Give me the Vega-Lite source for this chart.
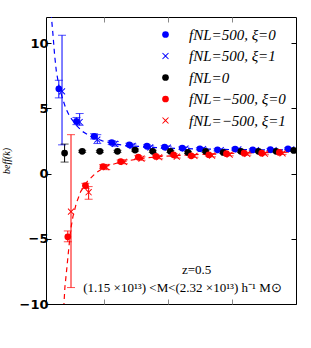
{
  "$schema": "https://vega.github.io/schema/vega-lite/v6.json",
  "width": 250,
  "height": 287,
  "autosize": {"type": "none"},
  "padding": {"left": 46, "top": 17, "right": 15, "bottom": 44},
  "background": "white",
  "config": {
    "view": {"stroke": "black", "strokeWidth": 1},
    "axis": {"grid": false, "domain": false},
    "legend": {
      "orient": "top-right",
      "offset": 10,
      "padding": 0,
      "labelFont": "Liberation Serif",
      "labelFontStyle": "italic",
      "labelFontSize": 15,
      "labelColor": "black",
      "symbolSize": 45,
      "symbolOpacity": 1,
      "symbolStrokeWidth": 0,
      "rowPadding": 5.5,
      "labelOffset": 16,
      "title": null
    }
  },
  "datasets": {
    "pts": [
      {"series": "fNL=500, ξ=0", "k": 0.003, "b": 6.5, "lo": 5.8, "hi": 7.15},
      {"series": "fNL=500, ξ=0", "k": 0.00575, "b": 4.0, "lo": 3.75, "hi": 4.3},
      {"series": "fNL=500, ξ=0", "k": 0.0085, "b": 2.85, "lo": 2.65, "hi": 3.05},
      {"series": "fNL=500, ξ=0", "k": 0.01125, "b": 2.38, "lo": 2.22, "hi": 2.52},
      {"series": "fNL=500, ξ=0", "k": 0.014, "b": 2.2, "lo": 2.08, "hi": 2.32},
      {"series": "fNL=500, ξ=0", "k": 0.01675, "b": 2.1, "lo": 2.0, "hi": 2.2},
      {"series": "fNL=500, ξ=0", "k": 0.0195, "b": 2.03, "lo": 1.93, "hi": 2.13},
      {"series": "fNL=500, ξ=0", "k": 0.02225, "b": 1.95, "lo": 1.86, "hi": 2.04},
      {"series": "fNL=500, ξ=0", "k": 0.025, "b": 1.9, "lo": 1.82, "hi": 1.98},
      {"series": "fNL=500, ξ=0", "k": 0.02775, "b": 1.82, "lo": 1.74, "hi": 1.9},
      {"series": "fNL=500, ξ=0", "k": 0.0305, "b": 1.88, "lo": 1.8, "hi": 1.96},
      {"series": "fNL=500, ξ=0", "k": 0.03325, "b": 1.82, "lo": 1.75, "hi": 1.89},
      {"series": "fNL=500, ξ=0", "k": 0.036, "b": 1.84, "lo": 1.77, "hi": 1.91},
      {"series": "fNL=500, ξ=0", "k": 0.03875, "b": 1.9, "lo": 1.83, "hi": 1.97},
      {"series": "fNL=500, ξ=1", "k": 0.0035, "b": 6.3, "lo": 2.2, "hi": 10.6},
      {"series": "fNL=500, ξ=1", "k": 0.00625, "b": 3.95, "lo": 3.7, "hi": 4.6},
      {"series": "fNL=500, ξ=1", "k": 0.009, "b": 2.6, "lo": 2.3, "hi": 2.98},
      {"series": "fNL=500, ξ=1", "k": 0.01175, "b": 2.28, "lo": 2.1, "hi": 2.45},
      {"series": "fNL=500, ξ=1", "k": 0.0145, "b": 2.12, "lo": 1.98, "hi": 2.26},
      {"series": "fNL=500, ξ=1", "k": 0.01725, "b": 2.0, "lo": 1.88, "hi": 2.12},
      {"series": "fNL=500, ξ=1", "k": 0.02, "b": 1.98, "lo": 1.87, "hi": 2.09},
      {"series": "fNL=500, ξ=1", "k": 0.02275, "b": 1.92, "lo": 1.82, "hi": 2.02},
      {"series": "fNL=500, ξ=1", "k": 0.0255, "b": 1.88, "lo": 1.79, "hi": 1.97},
      {"series": "fNL=500, ξ=1", "k": 0.02825, "b": 1.8, "lo": 1.72, "hi": 1.88},
      {"series": "fNL=500, ξ=1", "k": 0.031, "b": 1.85, "lo": 1.77, "hi": 1.93},
      {"series": "fNL=500, ξ=1", "k": 0.03375, "b": 1.8, "lo": 1.73, "hi": 1.87},
      {"series": "fNL=500, ξ=1", "k": 0.0365, "b": 1.8, "lo": 1.73, "hi": 1.87},
      {"series": "fNL=500, ξ=1", "k": 0.03925, "b": 1.85, "lo": 1.78, "hi": 1.92},
      {"series": "fNL=0", "k": 0.0039, "b": 1.57, "lo": 0.88, "hi": 2.26},
      {"series": "fNL=0", "k": 0.00665, "b": 1.7, "lo": 1.62, "hi": 1.78},
      {"series": "fNL=0", "k": 0.0094, "b": 1.7, "lo": 1.62, "hi": 1.78},
      {"series": "fNL=0", "k": 0.01215, "b": 1.7, "lo": 1.62, "hi": 1.78},
      {"series": "fNL=0", "k": 0.0149, "b": 1.8, "lo": 1.72, "hi": 1.88},
      {"series": "fNL=0", "k": 0.01765, "b": 1.7, "lo": 1.62, "hi": 1.78},
      {"series": "fNL=0", "k": 0.0204, "b": 1.7, "lo": 1.62, "hi": 1.78},
      {"series": "fNL=0", "k": 0.02315, "b": 1.62, "lo": 1.54, "hi": 1.7},
      {"series": "fNL=0", "k": 0.0259, "b": 1.7, "lo": 1.62, "hi": 1.78},
      {"series": "fNL=0", "k": 0.02865, "b": 1.62, "lo": 1.54, "hi": 1.7},
      {"series": "fNL=0", "k": 0.0314, "b": 1.7, "lo": 1.62, "hi": 1.78},
      {"series": "fNL=0", "k": 0.03415, "b": 1.7, "lo": 1.62, "hi": 1.78},
      {"series": "fNL=0", "k": 0.0369, "b": 1.7, "lo": 1.62, "hi": 1.78},
      {"series": "fNL=0", "k": 0.03965, "b": 1.77, "lo": 1.69, "hi": 1.85},
      {"series": "fNL=−500, ξ=0", "k": 0.0044, "b": -4.85, "lo": -5.23, "hi": -4.4},
      {"series": "fNL=−500, ξ=0", "k": 0.00715, "b": -0.92, "lo": -1.15, "hi": -0.75},
      {"series": "fNL=−500, ξ=0", "k": 0.0099, "b": 0.54, "lo": 0.4, "hi": 0.68},
      {"series": "fNL=−500, ξ=0", "k": 0.01265, "b": 0.92, "lo": 0.8, "hi": 1.04},
      {"series": "fNL=−500, ξ=0", "k": 0.0154, "b": 1.26, "lo": 1.15, "hi": 1.37},
      {"series": "fNL=−500, ξ=0", "k": 0.01815, "b": 1.31, "lo": 1.21, "hi": 1.41},
      {"series": "fNL=−500, ξ=0", "k": 0.0209, "b": 1.44, "lo": 1.34, "hi": 1.54},
      {"series": "fNL=−500, ξ=0", "k": 0.02365, "b": 1.36, "lo": 1.27, "hi": 1.45},
      {"series": "fNL=−500, ξ=0", "k": 0.0264, "b": 1.44, "lo": 1.35, "hi": 1.53},
      {"series": "fNL=−500, ξ=0", "k": 0.02915, "b": 1.52, "lo": 1.44, "hi": 1.6},
      {"series": "fNL=−500, ξ=0", "k": 0.0319, "b": 1.56, "lo": 1.48, "hi": 1.64},
      {"series": "fNL=−500, ξ=0", "k": 0.03465, "b": 1.56, "lo": 1.48, "hi": 1.64},
      {"series": "fNL=−500, ξ=0", "k": 0.0374, "b": 1.62, "lo": 1.55, "hi": 1.69},
      {"series": "fNL=−500, ξ=1", "k": 0.0049, "b": -2.92, "lo": -8.74, "hi": 2.98},
      {"series": "fNL=−500, ξ=1", "k": 0.00765, "b": -1.43, "lo": -1.97, "hi": -1.0},
      {"series": "fNL=−500, ξ=1", "k": 0.0104, "b": 0.5, "lo": 0.3, "hi": 0.7},
      {"series": "fNL=−500, ξ=1", "k": 0.01315, "b": 0.9, "lo": 0.75, "hi": 1.05},
      {"series": "fNL=−500, ξ=1", "k": 0.0159, "b": 1.15, "lo": 1.02, "hi": 1.28},
      {"series": "fNL=−500, ξ=1", "k": 0.01865, "b": 1.25, "lo": 1.13, "hi": 1.37},
      {"series": "fNL=−500, ξ=1", "k": 0.0214, "b": 1.3, "lo": 1.19, "hi": 1.41},
      {"series": "fNL=−500, ξ=1", "k": 0.02415, "b": 1.35, "lo": 1.25, "hi": 1.45},
      {"series": "fNL=−500, ξ=1", "k": 0.0269, "b": 1.38, "lo": 1.28, "hi": 1.48},
      {"series": "fNL=−500, ξ=1", "k": 0.02965, "b": 1.45, "lo": 1.36, "hi": 1.54},
      {"series": "fNL=−500, ξ=1", "k": 0.0324, "b": 1.5, "lo": 1.41, "hi": 1.59},
      {"series": "fNL=−500, ξ=1", "k": 0.03515, "b": 1.52, "lo": 1.44, "hi": 1.6},
      {"series": "fNL=−500, ξ=1", "k": 0.0379, "b": 1.55, "lo": 1.47, "hi": 1.63}
    ],
    "blueCurve": [
      {"k": 0.0017, "b": 13.0},
      {"k": 0.00188, "b": 11.8},
      {"k": 0.00208, "b": 10.7},
      {"k": 0.00234, "b": 9.1},
      {"k": 0.00261, "b": 7.85},
      {"k": 0.00302, "b": 6.7},
      {"k": 0.00355, "b": 5.8},
      {"k": 0.00406, "b": 5.03},
      {"k": 0.00469, "b": 4.38},
      {"k": 0.00563, "b": 3.75},
      {"k": 0.00667, "b": 3.23},
      {"k": 0.00797, "b": 2.85},
      {"k": 0.0098, "b": 2.5},
      {"k": 0.01188, "b": 2.26},
      {"k": 0.01344, "b": 2.15},
      {"k": 0.01719, "b": 2.02},
      {"k": 0.02109, "b": 1.93},
      {"k": 0.025, "b": 1.88},
      {"k": 0.03125, "b": 1.83},
      {"k": 0.04, "b": 1.8}
    ],
    "redCurve": [
      {"k": 0.0037, "b": -11.0},
      {"k": 0.0038, "b": -10.0},
      {"k": 0.00395, "b": -8.7},
      {"k": 0.00422, "b": -7.4},
      {"k": 0.00448, "b": -6.1},
      {"k": 0.00484, "b": -4.33},
      {"k": 0.0052, "b": -3.3},
      {"k": 0.00573, "b": -2.28},
      {"k": 0.00641, "b": -1.38},
      {"k": 0.00745, "b": -0.6},
      {"k": 0.00875, "b": 0.03},
      {"k": 0.01031, "b": 0.54},
      {"k": 0.01239, "b": 0.85},
      {"k": 0.01563, "b": 1.15},
      {"k": 0.01953, "b": 1.33},
      {"k": 0.025, "b": 1.47},
      {"k": 0.03125, "b": 1.57},
      {"k": 0.04, "b": 1.65}
    ],
    "notes": [
      {"k": 0.0245, "b": -7.4, "label": "z=0.5"},
      {"k": 0.0223, "b": -8.75, "label": "(1.15 ×10¹³) <M<(2.32 ×10¹³) h⁻¹ M⊙"}
    ]
  },
  "resolve": {"axis": {"x": "independent", "y": "independent"}},
  "layer": [
    {
      "data": {"name": "blueCurve"},
      "mark": {"type": "line", "clip": true, "color": "#0000ff", "strokeDash": [5, 4], "strokeWidth": 1.2},
      "encoding": {
        "x": {"field": "k", "type": "quantitative", "scale": {"domain": [0.001, 0.04], "nice": false, "zero": false},
              "axis": {"orient": "bottom", "values": [0.01, 0.02, 0.03], "labels": false, "title": null, "tickSize": -5, "tickColor": "#888"}},
        "y": {"field": "b", "type": "quantitative", "scale": {"domain": [-10, 12], "nice": false, "zero": false},
              "axis": {"orient": "left", "values": [-10, -5, 0, 5, 10], "tickSize": -5, "tickColor": "black",
                       "labelFont": "DejaVu Sans", "labelFontWeight": "bold", "labelFontSize": 13, "labelColor": "black", "labelPadding": 3,
                       "title": "beff(k)", "titleFont": "Liberation Serif", "titleFontStyle": "italic", "titleFontWeight": "normal", "titleFontSize": 10, "titleColor": "black", "titlePadding": 8}}
      }
    },
    {
      "data": {"name": "redCurve"},
      "mark": {"type": "line", "clip": true, "color": "#ff0000", "strokeDash": [5, 4], "strokeWidth": 1.2},
      "encoding": {
        "x": {"field": "k", "type": "quantitative", "axis": {"orient": "top", "values": [0.01, 0.02, 0.03], "labels": false, "title": null, "tickSize": -5, "tickColor": "#888"}},
        "y": {"field": "b", "type": "quantitative", "axis": {"orient": "right", "values": [-10, -5, 0, 5, 10], "labels": false, "title": null, "tickSize": -5, "tickColor": "black"}}
      }
    },
    {
      "data": {"name": "pts"},
      "mark": {"type": "rule", "clip": true, "strokeWidth": 1},
      "encoding": {
        "x": {"field": "k", "type": "quantitative", "axis": null},
        "y": {"field": "lo", "type": "quantitative", "axis": null},
        "y2": {"field": "hi"},
        "color": {"field": "series", "type": "nominal"}
      }
    },
    {
      "data": {"name": "pts"},
      "mark": {"type": "tick", "clip": true, "orient": "horizontal", "size": 8, "thickness": 1},
      "encoding": {
        "x": {"field": "k", "type": "quantitative", "axis": null},
        "y": {"field": "lo", "type": "quantitative", "axis": null},
        "color": {"field": "series", "type": "nominal"}
      }
    },
    {
      "data": {"name": "pts"},
      "mark": {"type": "tick", "clip": true, "orient": "horizontal", "size": 8, "thickness": 1},
      "encoding": {
        "x": {"field": "k", "type": "quantitative", "axis": null},
        "y": {"field": "hi", "type": "quantitative", "axis": null},
        "color": {"field": "series", "type": "nominal"}
      }
    },
    {
      "data": {"name": "pts"},
      "mark": {"type": "point", "filled": true, "opacity": 1, "size": 45, "clip": true},
      "encoding": {
        "x": {"field": "k", "type": "quantitative", "axis": null},
        "y": {"field": "b", "type": "quantitative", "axis": null},
        "color": {"field": "series", "type": "nominal",
                  "scale": {"domain": ["fNL=500, ξ=0", "fNL=500, ξ=1", "fNL=0", "fNL=−500, ξ=0", "fNL=−500, ξ=1"],
                            "range": ["#0000ff", "#0000ff", "#000000", "#ff0000", "#ff0000"]}},
        "shape": {"field": "series", "type": "nominal",
                  "scale": {"domain": ["fNL=500, ξ=0", "fNL=500, ξ=1", "fNL=0", "fNL=−500, ξ=0", "fNL=−500, ξ=1"],
                            "range": ["circle", "M-1,-0.8L-0.8,-1L0,-0.2L0.8,-1L1,-0.8L0.2,0L1,0.8L0.8,1L0,0.2L-0.8,1L-1,0.8L-0.2,0Z", "circle", "circle", "M-1,-0.8L-0.8,-1L0,-0.2L0.8,-1L1,-0.8L0.2,0L1,0.8L0.8,1L0,0.2L-0.8,1L-1,0.8L-0.2,0Z"]}}
      }
    },
    {
      "data": {"name": "notes"},
      "mark": {"type": "text", "font": "Liberation Serif", "fontSize": 13, "color": "black", "align": "center", "baseline": "middle"},
      "encoding": {
        "x": {"field": "k", "type": "quantitative", "axis": null},
        "y": {"field": "b", "type": "quantitative", "axis": null},
        "text": {"field": "label"}
      }
    }
  ]
}
